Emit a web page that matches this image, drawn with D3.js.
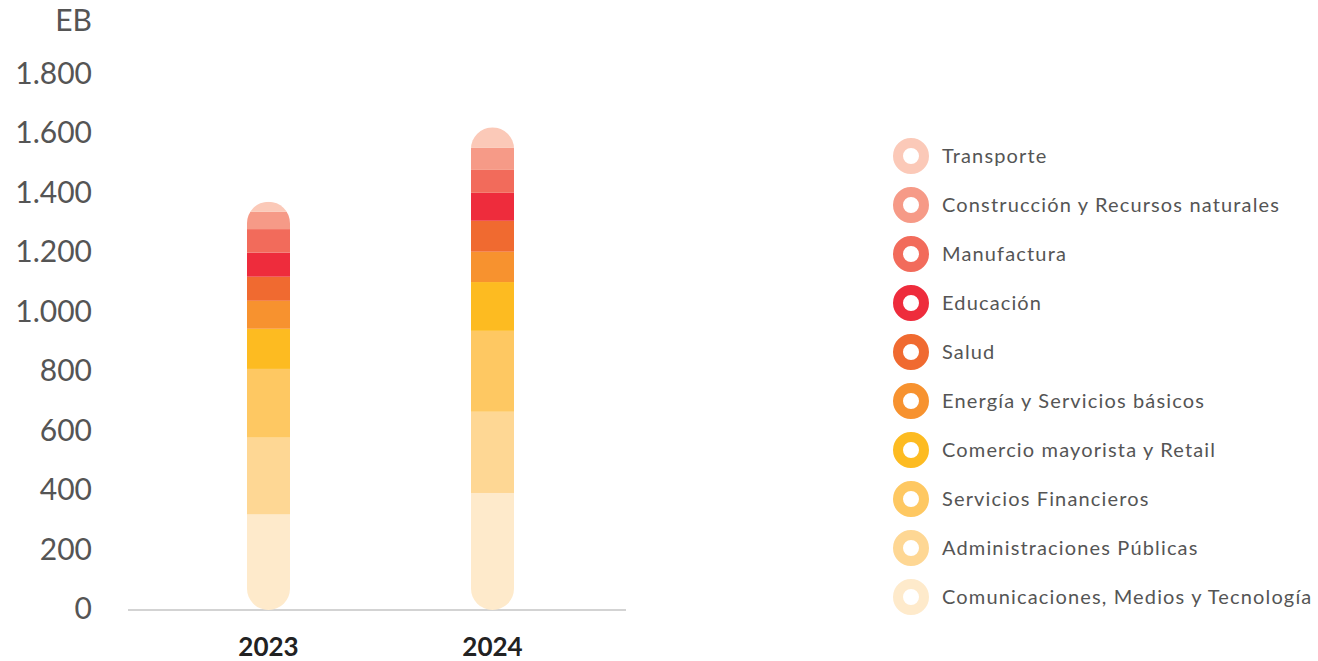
<!DOCTYPE html>
<html>
<head>
<meta charset="utf-8">
<script src="https://cdn.jsdelivr.net/npm/d3@7"></script>
<style>
  html, body { margin: 0; padding: 0; background: #fff; }
  svg { display: block; font-family: "Lato", "Open Sans", sans-serif; }
</style>
</head>
<body>
<svg id="chart" width="1318" height="661"></svg>
<script>
// Years on the x axis
const years = ["2023", "2024"];

// Sectors, stacked from the bottom of each bar upwards
const sectors = [
  "Comunicaciones, Medios y Tecnología",
  "Administraciones Públicas",
  "Servicios Financieros",
  "Comercio mayorista y Retail",
  "Energía y Servicios básicos",
  "Salud",
  "Educación",
  "Manufactura",
  "Construcción y Recursos naturales",
  "Transporte"
];

// Data volume per sector (EB), same order as sectors
const values2023 = [318, 258, 231, 135, 94, 81, 81, 79, 58, 34];
const values2024 = [390, 273, 272, 164, 102, 104, 94, 77, 74, 69];

const sectorColors = [
  "#feeacb", "#fed794", "#fec862", "#fdbb21", "#f7922f",
  "#f06a30", "#ee2c3c", "#f26b5b", "#f69a87", "#fbc9b8"
];

const yTicks = [0, 200, 400, 600, 800, 1000, 1200, 1400, 1600, 1800];

const svg = d3.select("#chart");

const x = d3.scaleBand()
  .domain(years)
  .range([135, 626])
  .paddingInner(0.808)
  .paddingOuter(0.5);

const y = d3.scaleLinear()
  .domain([0, 1800])
  .range([609, 73.5]);

const color = d3.scaleOrdinal().domain(sectors).range(sectorColors);

const rows = years.map((yr, i) => {
  const vals = i === 0 ? values2023 : values2024;
  const row = { year: yr };
  sectors.forEach((s, j) => { row[s] = vals[j]; });
  return row;
});

const stack = d3.stack().keys(sectors);
const series = stack(rows);

const totals = rows.map(r => d3.sum(sectors, s => r[s]));

// rounded pill outline used to clip each stacked bar
const defs = svg.append("defs");
years.forEach((yr, i) => {
  defs.append("clipPath")
    .attr("id", "clip-" + yr)
    .append("rect")
    .attr("x", x(yr))
    .attr("y", y(totals[i]))
    .attr("width", x.bandwidth())
    .attr("height", y(0) + 1 - y(totals[i]))
    .attr("rx", x.bandwidth() / 2)
    .attr("ry", x.bandwidth() / 2);
});

// baseline
svg.append("line")
  .attr("x1", 128).attr("x2", 626)
  .attr("y1", 610).attr("y2", 610)
  .attr("stroke", "#d3d3d3")
  .attr("stroke-width", 2);

// stacked bars
const barGroups = years.map(yr =>
  svg.append("g").attr("clip-path", "url(#clip-" + yr + ")")
);

series.forEach(layer => {
  layer.forEach((d, i) => {
    barGroups[i].append("rect")
      .attr("x", x(d.data.year))
      .attr("y", y(d[1]))
      .attr("width", x.bandwidth())
      .attr("height", y(d[0]) - y(d[1]) + (d[0] === 0 ? 2 : 0))
      .attr("fill", color(layer.key));
  });
});

// y axis labels
const locale = d3.formatLocale({ decimal: ",", thousands: ".", grouping: [3], currency: ["", ""] });
const fmt = locale.format(",");

const yAxis = svg.append("g")
  .attr("transform", "translate(92,0)")
  .call(d3.axisLeft(y).tickValues(yTicks).tickSize(0).tickPadding(0).tickFormat(fmt));
yAxis.select(".domain").remove();
yAxis.selectAll("text")
  .attr("font-family", "Lato, sans-serif")
  .attr("font-size", 30)
  .attr("fill", "#555");

// unit label
svg.append("text")
  .attr("x", 92).attr("y", 20)
  .attr("dy", "0.35em")
  .attr("text-anchor", "end")
  .attr("font-size", 30)
  .attr("fill", "#555")
  .text("EB");

// x axis labels
const xAxis = svg.append("g")
  .attr("transform", "translate(0,638)")
  .call(d3.axisBottom(x).tickSize(0).tickPadding(0));
xAxis.select(".domain").remove();
xAxis.selectAll("text")
  .attr("font-family", "Lato, sans-serif")
  .attr("font-size", 26)
  .attr("font-weight", 700)
  .attr("fill", "#222");

// legend, top entry is Transporte
const legendItems = sectors.slice().reverse();
const legend = svg.append("g").attr("transform", "translate(911,156)");
legendItems.forEach((s, i) => {
  const g = legend.append("g").attr("transform", "translate(0," + i * 49 + ")");
  g.append("circle")
    .attr("r", 13)
    .attr("fill", "#fff")
    .attr("stroke", color(s))
    .attr("stroke-width", 10);
  g.append("text")
    .attr("x", 31)
    .attr("dy", "0.35em")
    .attr("font-size", 20)
    .attr("letter-spacing", 1.15)
    .attr("fill", "#555")
    .text(s);
});
</script>
</body>
</html>
